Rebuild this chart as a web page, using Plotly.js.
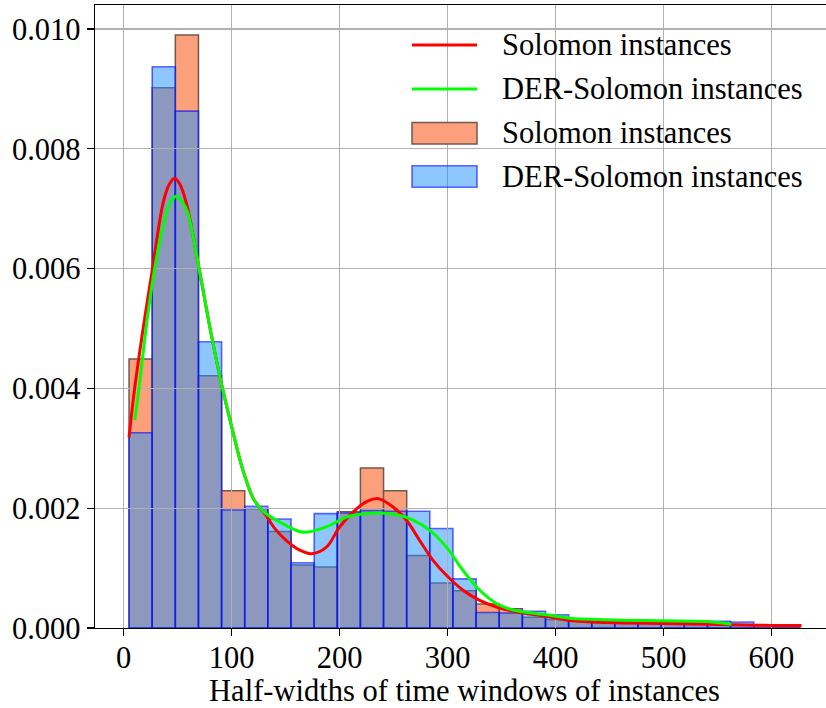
<!DOCTYPE html>
<html>
<head>
<meta charset="utf-8">
<script src="https://cdn.plot.ly/plotly-3.0.1.min.js"></script>
<style>
html,body{margin:0;padding:0;overflow:hidden;background:#fff;}
#chart{width:840px;height:708px;}
</style>
</head>
<body>
<div id="chart"></div>
<script>
// ---- data ----
const BIN_START = 4.95;
const BIN_WIDTH = 21.43;
const solomonDensity = [0.00449, 0.00902, 0.00990, 0.00421, 0.00229, 0.00199, 0.00161, 0.00105, 0.00102, 0.00194,
  0.00267, 0.00229, 0.00121, 0.00075, 0.00062, 0.00040, 0.00032, 0.00018, 0.00014, 0.00012,
  0.00009, 0.00008, 0.00008, 0.00007, 0.00007, 0.00006, 0.00006, 0.00004, 0.00004];
const derDensity = [0.00326, 0.00937, 0.00863, 0.00478, 0.00197, 0.00203, 0.00182, 0.00109, 0.00191, 0.00192,
  0.00196, 0.00195, 0.00195, 0.00166, 0.00082, 0.00026, 0.00025, 0.00028, 0.00022, 0.00013,
  0.00011, 0.00011, 0.00011, 0.00010, 0.00010, 0.00011, 0.00010, 0, 0];

const solomonKdeX = [4.9, 10.2, 18, 26.6, 36.4, 42, 47.2, 52, 58.1, 69.8, 80, 90, 100, 110, 120, 126, 131, 140,
  150.7, 163, 173.9, 187.8, 200.1, 215.6, 226, 235.6, 249.5, 261.9, 274.2, 286.5, 298.9, 314.3, 329.8, 345.2,
  360.7, 391.6, 413.2, 447.2, 499.6, 539.8, 564.4, 601.5, 627.8];
const solomonKdeY = [0.00318, 0.00401, 0.00500, 0.00600, 0.00709, 0.00740, 0.00751, 0.00741, 0.00709, 0.00600, 0.00500,
  0.00412, 0.00336, 0.00266, 0.00216, 0.00201, 0.00190, 0.00166, 0.00146, 0.00130, 0.00124, 0.00135, 0.00169,
  0.00199, 0.00212, 0.00216, 0.00202, 0.00180, 0.00146, 0.00113, 0.00088, 0.00063, 0.00046, 0.00035, 0.00028,
  0.00019, 0.000125, 0.00009, 0.000075, 0.000064, 0.000053, 0.000042, 0.00004];

const derKdeX = [10.2, 14.2, 21, 28.7, 36.4, 43, 48.8, 54, 59, 69.8, 80, 90, 100, 110, 120, 126, 131, 147.6,
  166.1, 187.8, 206.3, 224.8, 237.1, 255.7, 268, 283.5, 298.9, 314.3, 329.8, 345.2, 360.7, 391.6, 413.2, 447.2,
  499.6, 539.8, 563];
const derKdeY = [0.00347, 0.00401, 0.00505, 0.00600, 0.00670, 0.00710, 0.00721, 0.00712, 0.00695, 0.00600, 0.00500,
  0.00412, 0.00336, 0.00266, 0.00216, 0.00201, 0.00192, 0.00174, 0.00160, 0.00169, 0.00185, 0.00191, 0.00192,
  0.00188, 0.00180, 0.00163, 0.00135, 0.00096, 0.00063, 0.00041, 0.00030, 0.00022, 0.000164, 0.000137,
  0.00012, 0.000109, 0.000064];

const xTicks = [0, 100, 200, 300, 400, 500, 600];
const yTicks = [0, 0.002, 0.004, 0.006, 0.008, 0.010];
const seriesNames = ['Solomon instances', 'DER-Solomon instances'];
const xTitle = 'Half-widths of time windows of instances';

// ---- layout constants ----
const W = 840, H = 708;
const M = {l: 95, r: 6, t: 5, b: 80};
const PW = W - M.l - M.r, PH = H - M.t - M.b;
const XR = [-26.6, 657.9], YR = [0, 0.010401];
const FONT = 'Liberation Serif, Times New Roman, serif';
const FS = 30.5;

const centers = solomonDensity.map((_, i) => BIN_START + (i + 0.5) * BIN_WIDTH);

const orangeFill = 'rgb(252,160,124)';
const orangeEdge = 'rgb(112,88,80)';
const blueFill = 'rgba(30,144,255,0.5)';
const blueEdge = 'rgba(0,0,255,0.58)';

const traces = [
  {type: 'bar', x: centers, y: solomonDensity, width: BIN_WIDTH, name: seriesNames[0],
   marker: {color: orangeFill, line: {color: orangeEdge, width: 1.5}}, xaxis: 'x', yaxis: 'y', showlegend: false, hoverinfo: 'skip'},
  {type: 'bar', x: centers, y: derDensity, width: BIN_WIDTH, name: seriesNames[1],
   marker: {color: blueFill, line: {color: blueEdge, width: 1.6}}, xaxis: 'x', yaxis: 'y', showlegend: false, hoverinfo: 'skip'},
  {type: 'scatter', mode: 'lines', x: solomonKdeX, y: solomonKdeY, name: seriesNames[0],
   line: {color: '#ff0000', width: 3, shape: 'spline', smoothing: 1}, xaxis: 'x2', yaxis: 'y2', showlegend: false, hoverinfo: 'skip'},
  {type: 'scatter', mode: 'lines', x: derKdeX, y: derKdeY, name: seriesNames[1],
   line: {color: '#00ff00', width: 3, shape: 'spline', smoothing: 1}, xaxis: 'x2', yaxis: 'y2', showlegend: false, hoverinfo: 'skip'}
];

// pixel -> paper helpers for the hand-drawn legend
const px = v => (v - M.l) / PW;
const py = v => (H - M.b - v) / PH;

const legendRows = [45, 89, 133.3, 176.5];
const shapes = [
  {type: 'line', xref: 'paper', yref: 'paper', x0: px(412), x1: px(477), y0: py(legendRows[0]), y1: py(legendRows[0]), line: {color: '#ff0000', width: 3}, layer: 'above'},
  {type: 'line', xref: 'paper', yref: 'paper', x0: px(412), x1: px(477), y0: py(legendRows[1]), y1: py(legendRows[1]), line: {color: '#00ff00', width: 3}, layer: 'above'},
  {type: 'rect', xref: 'paper', yref: 'paper', x0: px(412), x1: px(477), y0: py(legendRows[2] - 10.7), y1: py(legendRows[2] + 10.7), fillcolor: orangeFill, line: {color: orangeEdge, width: 1.5}, layer: 'above'},
  {type: 'rect', xref: 'paper', yref: 'paper', x0: px(412), x1: px(477), y0: py(legendRows[3] - 10.7), y1: py(legendRows[3] + 10.7), fillcolor: blueFill, line: {color: blueEdge, width: 1.6}, layer: 'above'}
];
const legendLabels = [seriesNames[0], seriesNames[1], seriesNames[0], seriesNames[1]];
const annotations = legendLabels.map((t, i) => ({
  xref: 'paper', yref: 'paper', x: px(500), y: py(legendRows[i]), text: t, showarrow: false,
  xanchor: 'left', yanchor: 'middle', font: {family: FONT, size: FS, color: '#000'}
}));

const axisCommon = {
  showgrid: false, zeroline: false, showline: true, mirror: true, linecolor: '#000', linewidth: 1.3,
  ticks: 'outside', ticklen: 7, tickwidth: 1.3, tickcolor: '#000',
  tickfont: {family: FONT, size: FS, color: '#000'}
};

const layout = {
  width: W, height: H, margin: M,
  paper_bgcolor: '#fff', plot_bgcolor: 'rgba(0,0,0,0)',
  barmode: 'overlay', bargap: 0,
  showlegend: false,
  xaxis: Object.assign({}, axisCommon, {range: XR, tickmode: 'array', tickvals: xTicks, ticktext: xTicks.map(String),
    ticklabelstandoff: -5,
    title: {text: xTitle, font: {family: FONT, size: FS, color: '#000'}, standoff: 10}, anchor: 'y', domain: [0, 1]}),
  yaxis: Object.assign({}, axisCommon, {range: YR, tickmode: 'array', tickvals: yTicks, ticktext: yTicks.map(v => v.toFixed(3)), anchor: 'x', domain: [0, 1]}),
  xaxis2: {range: XR, anchor: 'y2', domain: [0, 1], showgrid: true, gridcolor: '#b0b0b0', gridwidth: 1.3, tickmode: 'array', tickvals: xTicks,
    showticklabels: false, ticks: '', zeroline: false, showline: false},
  yaxis2: {range: YR, anchor: 'x2', domain: [0, 1], showgrid: true, gridcolor: '#b0b0b0', gridwidth: 1.3, tickmode: 'array', tickvals: yTicks,
    showticklabels: false, ticks: '', zeroline: false, showline: false},
  shapes: shapes,
  annotations: annotations
};

Plotly.newPlot('chart', traces, layout, {staticPlot: true, displayModeBar: false});
</script>
</body>
</html>
